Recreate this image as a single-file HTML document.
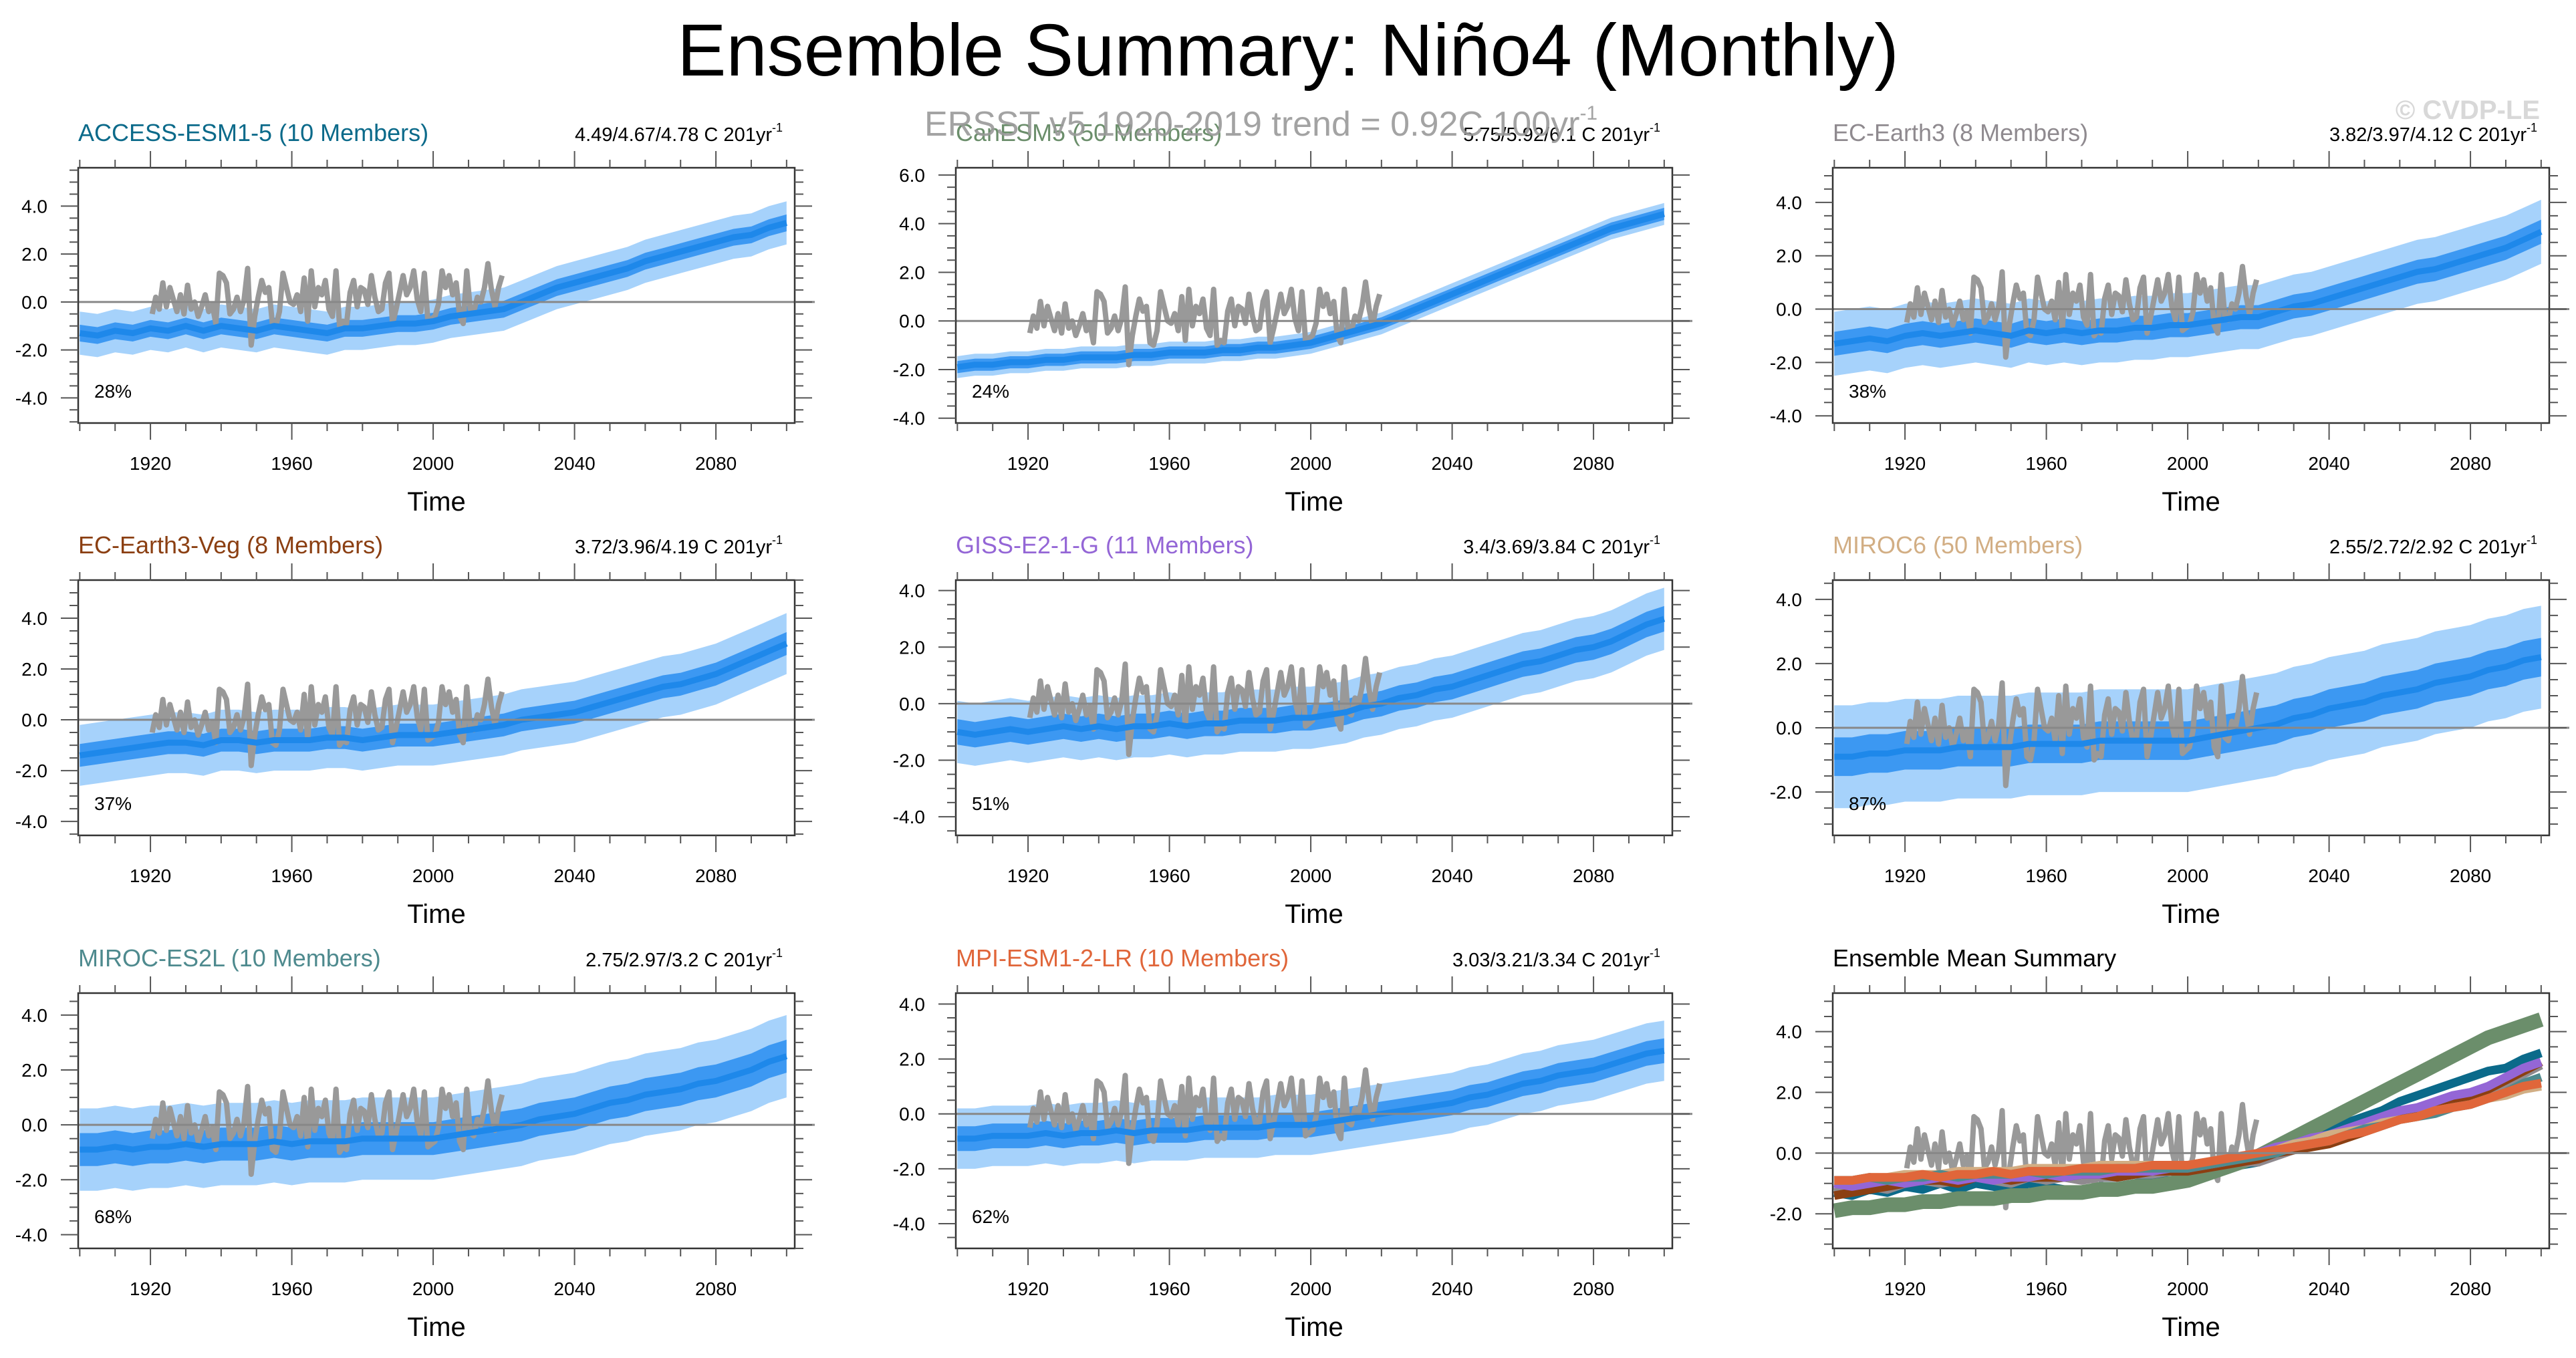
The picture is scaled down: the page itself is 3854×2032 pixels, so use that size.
<!DOCTYPE html>
<html><head><meta charset="utf-8">
<style>
html,body{margin:0;padding:0;background:#fff;}
svg{display:block;font-family:"Liberation Sans",sans-serif;}
</style></head>
<body>
<svg id="chart" width="3854" height="2032" viewBox="0 0 3854 2032" xmlns="http://www.w3.org/2000/svg">
<rect width="3854" height="2032" fill="#fff"/>
<text x="1927" y="113" font-size="110" text-anchor="middle" fill="#000">Ensemble Summary: Niño4 (Monthly)</text>
<text x="3800" y="178" font-size="40" font-weight="bold" text-anchor="end" fill="#d8d8d8">© CVDP-LE</text>
<g id="panels"></g>
<text x="1383" y="203" font-size="52" fill="#999" fill-opacity="0.9">ERSST v5 1920-2019 trend = 0.92C 100yr<tspan dy="-24" font-size="30">-1</tspan></text>
</svg>
<script>
const NS='http://www.w3.org/2000/svg';
// ---- data ----
const years5=[1900,1905,1910,1915,1920,1925,1930,1935,1940,1945,1950,1955,1960,1965,1970,1975,1980,1985,1990,1995,2000,2005,2010,2015,2020,2025,2030,2035,2040,2045,2050,2055,2060,2065,2070,2075,2080,2085,2090,2095,2100];
const obsStart=1920;
const obsValues=[-0.5,0.2,-0.3,0.8,-0.2,0.6,0.1,-0.4,0.3,-0.5,
0.7,-0.3,0.0,-0.6,-0.2,0.3,-0.4,-0.1,-0.9,1.2,
1.1,0.8,-0.5,-0.3,0.2,-0.4,0.1,1.4,-1.8,-0.6,
0.2,0.9,0.4,0.6,-0.9,-1.0,-0.4,1.2,0.6,0.0,
-0.1,0.3,-0.4,1.0,-0.8,1.3,-0.2,0.6,0.3,0.9,
-0.3,-0.6,1.3,-1.0,-0.8,-0.9,0.4,0.9,-0.2,0.6,
0.5,-0.1,1.1,0.2,-0.4,-0.3,0.8,1.2,-0.9,-0.3,
0.4,1.1,0.3,0.6,1.3,0.1,-0.4,1.2,-0.8,-0.7,
-0.6,-0.1,1.3,0.6,1.1,0.3,0.8,-0.6,-0.9,1.3,
-0.3,-0.4,0.2,0.0,0.6,1.6,0.5,-0.2,0.6,1.1];
const meanACCESS=[-1.3,-1.4,-1.2,-1.3,-1.1,-1.2,-1.0,-1.2,-1.0,-1.1,-1.2,-1.0,-1.1,-1.2,-1.3,-1.1,-1.1,-1.0,-0.9,-0.9,-0.8,-0.6,-0.5,-0.4,-0.3,0.0,0.3,0.6,0.8,1.0,1.2,1.4,1.7,1.9,2.1,2.3,2.5,2.7,2.8,3.1,3.3];
const meanCanESM5=[-1.9,-1.8,-1.8,-1.7,-1.7,-1.6,-1.6,-1.5,-1.5,-1.5,-1.4,-1.4,-1.3,-1.3,-1.3,-1.2,-1.2,-1.1,-1.1,-1.0,-0.9,-0.7,-0.5,-0.3,-0.1,0.2,0.5,0.8,1.1,1.4,1.7,2.0,2.3,2.6,2.9,3.2,3.5,3.8,4.0,4.2,4.4];
const meanECEarth3=[-1.3,-1.2,-1.1,-1.2,-1.0,-0.9,-1.0,-0.9,-0.8,-0.9,-1.0,-0.8,-0.9,-0.8,-0.9,-0.8,-0.8,-0.7,-0.7,-0.6,-0.6,-0.5,-0.4,-0.3,-0.3,-0.1,0.1,0.2,0.4,0.6,0.8,1.0,1.2,1.4,1.5,1.7,1.9,2.1,2.3,2.6,2.9];
const meanECEarth3Veg=[-1.4,-1.3,-1.2,-1.1,-1.0,-0.9,-0.9,-1.0,-0.8,-0.8,-0.9,-0.8,-0.8,-0.8,-0.7,-0.7,-0.8,-0.7,-0.6,-0.6,-0.6,-0.5,-0.4,-0.3,-0.2,0.0,0.1,0.2,0.3,0.5,0.7,0.9,1.1,1.3,1.4,1.6,1.8,2.1,2.4,2.7,3.0];
const meanGISS=[-1.0,-1.1,-1.0,-0.9,-1.0,-0.9,-0.8,-0.9,-0.8,-0.9,-0.8,-0.8,-0.7,-0.8,-0.7,-0.7,-0.6,-0.6,-0.6,-0.5,-0.5,-0.4,-0.3,-0.1,0.0,0.2,0.3,0.5,0.6,0.8,1.0,1.2,1.4,1.5,1.7,1.9,2.0,2.2,2.5,2.8,3.0];
const meanMIROC6=[-0.9,-0.9,-0.8,-0.8,-0.7,-0.7,-0.7,-0.6,-0.6,-0.6,-0.6,-0.5,-0.5,-0.5,-0.5,-0.4,-0.4,-0.4,-0.4,-0.4,-0.4,-0.3,-0.2,-0.1,0.0,0.1,0.3,0.4,0.6,0.7,0.8,1.0,1.1,1.2,1.4,1.5,1.6,1.8,1.9,2.1,2.2];
const meanMIROCES2L=[-0.9,-0.9,-0.8,-0.9,-0.8,-0.8,-0.7,-0.8,-0.7,-0.7,-0.7,-0.6,-0.7,-0.6,-0.6,-0.6,-0.5,-0.5,-0.5,-0.5,-0.5,-0.4,-0.3,-0.2,-0.1,0.0,0.2,0.3,0.4,0.6,0.8,0.9,1.1,1.2,1.3,1.5,1.6,1.8,2.0,2.3,2.5];
const meanMPI=[-0.9,-0.9,-0.8,-0.8,-0.8,-0.7,-0.8,-0.7,-0.7,-0.6,-0.7,-0.6,-0.6,-0.6,-0.5,-0.5,-0.5,-0.5,-0.4,-0.4,-0.4,-0.3,-0.2,-0.1,0.0,0.1,0.2,0.3,0.4,0.6,0.7,0.9,1.1,1.2,1.4,1.5,1.6,1.8,2.0,2.2,2.3];
const innerSpread=[0.35,0.25,0.45,0.45,0.45,0.6,0.6,0.45];
const outerSpread=[0.9,0.45,1.2,1.2,1.1,1.6,1.5,1.1];
const modelNames=['ACCESS-ESM1-5 (10 Members)','CanESM5 (50 Members)','EC-Earth3 (8 Members)','EC-Earth3-Veg (8 Members)','GISS-E2-1-G (11 Members)','MIROC6 (50 Members)','MIROC-ES2L (10 Members)','MPI-ESM1-2-LR (10 Members)'];
const trendLabels=['4.49/4.67/4.78 C 201yr','5.75/5.92/6.1 C 201yr','3.82/3.97/4.12 C 201yr','3.72/3.96/4.19 C 201yr','3.4/3.69/3.84 C 201yr','2.55/2.72/2.92 C 201yr','2.75/2.97/3.2 C 201yr','3.03/3.21/3.34 C 201yr'];
const pctLabels=['28%','24%','38%','37%','51%','87%','68%','62%'];
const yMins=[-5.05,-4.2,-4.27,-4.55,-4.66,-3.35,-4.5,-4.9,-3.14];
const yMaxs=[5.6,6.3,5.3,5.5,4.37,4.6,4.8,4.4,5.27];
const yTickSets=[[4,2,0,-2,-4],[6,4,2,0,-2,-4],[4,2,0,-2,-4],[4,2,0,-2,-4],[4,2,0,-2,-4],[4,2,0,-2],[4,2,0,-2,-4],[4,2,0,-2,-4],[4,2,0,-2]];
const xTicks=[1920,1960,2000,2040,2080];
const modelMeans=[meanACCESS,meanCanESM5,meanECEarth3,meanECEarth3Veg,meanGISS,meanMIROC6,meanMIROCES2L,meanMPI];
const modelColors=['#0b6a8a','#6b8e6b','#8f8a8f','#8b3f12','#9466d6','#d2ae84','#4e8a8e','#e0663a'];

// ---- layout ----
const colL=[117,1430,2742], rowT=[251,868,1486], PW=1072, PH=382;
const X0=1899.56, X1=2102.3;
const root=document.getElementById('panels');
function mk(tag,attrs,parent){const e=document.createElementNS(NS,tag);for(const k in attrs)e.setAttribute(k,attrs[k]);(parent||root).appendChild(e);return e;}
function lineStr(pts){return pts.map((p,i)=>(i?'L':'M')+p[0].toFixed(1)+','+p[1].toFixed(1)).join('');}

function drawPanel(idx){
  const L=colL[idx%3], T=rowT[Math.floor(idx/3)];
  const ymin=yMins[idx], ymax=yMaxs[idx];
  const sx=y=>L+(y-X0)/(X1-X0)*PW;
  const sy=v=>T+(ymax-v)/(ymax-ymin)*PH;
  const g=mk('g',{});
  
  
  const cid='clip'+idx;
  const cp=mk('clipPath',{id:cid},g); mk('rect',{x:L,y:T,width:PW,height:PH},cp);
  const plot=mk('g',{'clip-path':'url(#'+cid+')'},g);
  // zero line
  const z=mk('line',{x1:L,x2:L+PW+30,y1:sy(0),y2:sy(0),stroke:'#888','stroke-width':3},g);
  
  
  if(idx<8){
    const m=modelMeans[idx];
    [[outerSpread[idx],'#a6d2fb'],[innerSpread[idx],'#3c98f2']].forEach(([s,c],k)=>{
      const up=years5.map((y,i)=>[sx(y),sy(m[i]+s)]);
      const dn=years5.map((y,i)=>[sx(y),sy(m[i]-s)]).reverse();
      const p=mk('path',{d:lineStr(up.concat(dn))+'Z',fill:c},plot);
      
      
    });
    const obs=mk('path',{d:lineStr(obsValues.map((v,i)=>[sx(obsStart+i+0.5),sy(v)])),fill:'none',stroke:'#999','stroke-width':8,'stroke-linejoin':'round'},plot);
    
    
    const ml=mk('path',{d:lineStr(years5.map((y,i)=>[sx(y),sy(m[i])])),fill:'none',stroke:'#1e88ea','stroke-width':9,'stroke-linejoin':'round'},plot);
    
    
    const t=mk('text',{x:L,y:T-40,'font-size':36,fill:modelColors[idx]},g); t.textContent=modelNames[idx];
    
    
    const tr=mk('text',{x:L+PW-18,y:T-40,'font-size':29,'text-anchor':'end',fill:'#000'},g); tr.textContent=trendLabels[idx];
    const sup=mk('tspan',{dy:-14,'font-size':18},tr); sup.textContent='-1';
    
    
    const pc=mk('text',{x:L+24,y:T+PH-38,'font-size':28,fill:'#000'},g); pc.textContent=pctLabels[idx];
    
    
  } else {
    const obs=mk('path',{d:lineStr(obsValues.map((v,i)=>[sx(obsStart+i+0.5),sy(v)])),fill:'none',stroke:'#999','stroke-width':8,'stroke-linejoin':'round'},plot);
    
    
    modelMeans.forEach((m,k)=>{
      const ml=mk('path',{d:lineStr(years5.map((y,i)=>[sx(y),sy(m[i])])),fill:'none',stroke:modelColors[k],'stroke-width':k==1?22:13,'stroke-linejoin':'round'},plot);
      
      
    });
    const t=mk('text',{x:L,y:T-40,'font-size':36,fill:'#000'},g); t.textContent='Ensemble Mean Summary';
    
    
  }
  // frame
  mk('rect',{x:L,y:T,width:PW,height:PH,fill:'none',stroke:'#333','stroke-width':2.5},g);
  // ticks
  let d='';
  for(let yr=1900;yr<=2100;yr+=10){const x=sx(yr),maj=(yr-1920)%40===0;const len=maj?25:12;d+=`M${x},${T}v${-len}M${x},${T+PH}v${len}`;}
  for(let v=Math.ceil(ymin*2)/2;v<=ymax;v+=0.5){const y=sy(v),maj=Math.abs(v%2)<1e-6;const len=maj?26:13;d+=`M${L},${y}h${-len}M${L+PW},${y}h${len}`;}
  mk('path',{d:d,stroke:'#555','stroke-width':2,fill:'none'},g);
  yTickSets[idx].forEach(v=>{const t=mk('text',{x:L-46,y:sy(v)+10,'font-size':28,'text-anchor':'end',fill:'#000'},g);t.textContent=v.toFixed(1);
    
    });
  xTicks.forEach(v=>{const t=mk('text',{x:sx(v),y:T+PH+70,'font-size':28,'text-anchor':'middle',fill:'#000'},g);t.textContent=v;
    
    });
  const xt=mk('text',{x:L+PW/2,y:T+PH+131,'font-size':40,'text-anchor':'middle',fill:'#000'},g); xt.textContent='Time';
  
  
}
for(let i=0;i<9;i++)drawPanel(i);
</script>
</body></html>
